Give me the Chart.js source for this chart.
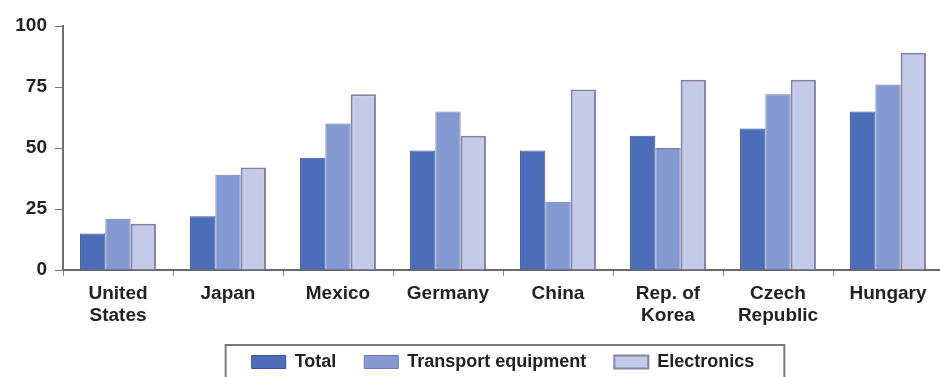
<!DOCTYPE html>
<html>
<head>
<meta charset="utf-8">
<script src="https://cdn.jsdelivr.net/npm/chart.js@4/dist/chart.umd.min.js"></script>
<style>
  html, body { margin: 0; padding: 0; background: #ffffff; overflow: hidden; }
  #wrap { position: relative; width: 945px; height: 381px; }
  #err { position: absolute; left: 10px; top: 10px; color: red; font: 14px sans-serif; }
</style>
</head>
<body>
<div id="wrap"><canvas id="chart" width="945" height="381"></canvas></div>
<div id="err"></div>
<script>
// Share of output by country (percent)
const categories = [
  ['United', 'States'], 'Japan', 'Mexico', 'Germany', 'China',
  ['Rep. of', 'Korea'], ['Czech', 'Republic'], 'Hungary'
];
const total       = [15, 22, 46, 49, 49, 55, 58, 65];
const transport   = [21, 39, 60, 65, 28, 50, 72, 76];
const electronics = [19, 42, 72, 55, 74, 78, 78, 89];
const yTickStep   = 25;

const FONT = '"Liberation Sans", Arial, Helvetica, sans-serif';
const PLOT_BOTTOM = 270;
const CANVAS_H = 381;

// Frame drawn around the legend row
const legendFrame = {
  id: 'legendFrame',
  afterDraw(chart) {
    const lg = chart.legend;
    if (!lg || !lg.legendHitBoxes || !lg.legendHitBoxes.length) return;
    const boxes = lg.legendHitBoxes;
    const last = boxes[boxes.length - 1];
    const left = boxes[0].left - 26;
    const right = last.left + last.width + 30;
    const top = boxes[0].top + boxes[0].height / 2 - 17;
    const ctx = chart.ctx;
    ctx.save();
    ctx.strokeStyle = '#7a7a7a';
    ctx.lineWidth = 2;
    ctx.beginPath();
    ctx.moveTo(left, CANVAS_H + 5);
    ctx.lineTo(left, top);
    ctx.lineTo(right, top);
    ctx.lineTo(right, CANVAS_H + 5);
    ctx.stroke();
    ctx.restore();
  }
};

try {
  new Chart(document.getElementById('chart'), {
    type: 'bar',
    data: {
      labels: categories,
      datasets: [
        { label: 'Total', data: total,
          backgroundColor: '#4c6db8', borderColor: '#3a559c', borderWidth: 1 },
        { label: 'Transport equipment', data: transport,
          backgroundColor: '#8498d1', borderColor: '#6a7bb8', borderWidth: 1 },
        { label: 'Electronics', data: electronics,
          backgroundColor: '#c3cbe8', borderColor: '#8580a6', borderWidth: 2 }
      ]
    },
    plugins: [legendFrame],
    options: {
      responsive: false,
      animation: false,
      layout: { padding: { top: 26, right: 2, left: 0, bottom: 0 } },
      categoryPercentage: 0.69,
      barPercentage: 1.0,
      plugins: {
        legend: {
          position: 'bottom',
          fullSize: false,
          labels: {
            boxWidth: 34, boxHeight: 13, padding: 28,
            color: '#222222',
            font: { family: FONT, size: 18, weight: 'bold' }
          }
        },
        tooltip: { enabled: false }
      },
      scales: {
        x: {
          afterFit(s) {
            const lh = (s.chart.legend && s.chart.legend.height) || 56;
            s.height = Math.max(20, CANVAS_H - lh - PLOT_BOTTOM);
          },
          border: { display: true, color: '#6d6670', width: 2 },
          grid: { display: true, drawOnChartArea: false, drawTicks: true,
                  tickLength: 6, color: '#8a8a8a', offset: true },
          ticks: {
            color: '#222222', padding: 6, maxRotation: 0, autoSkip: false,
            font: { family: FONT, size: 19, weight: 'bold', lineHeight: 1.2 }
          }
        },
        y: {
          min: 0, max: 100,
          afterFit(s) { s.width = 63; },
          border: { display: true, color: '#6e6e6e', width: 2 },
          grid: { display: true, drawOnChartArea: false, drawTicks: true,
                  tickLength: 8, color: '#7a7a7a' },
          ticks: {
            stepSize: yTickStep,
            color: '#222222', padding: 8,
            font: { family: FONT, size: 19, weight: 'bold' }
          }
        }
      }
    }
  });
} catch (e) {
  document.getElementById('err').textContent = e.message;
}
</script>
</body>
</html>
